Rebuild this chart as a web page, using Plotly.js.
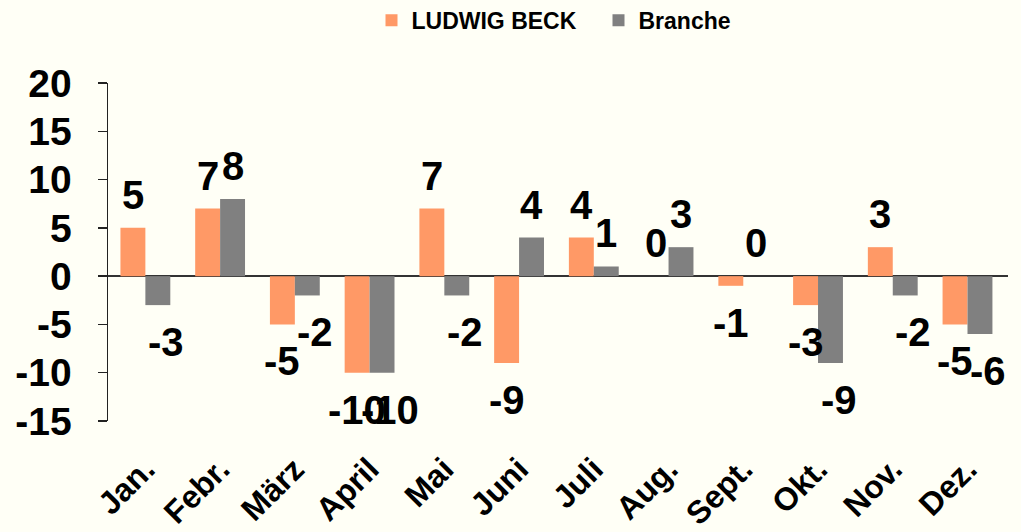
<!DOCTYPE html>
<html>
<head>
<meta charset="utf-8">
<script src="https://cdn.plot.ly/plotly-3.0.1.min.js"></script>
<style>html,body{margin:0;padding:0;background:#fffff6;}#chart{width:1021px;height:532px;}</style>
</head>
<body>
<div id="chart"></div>
<script>
const months = ["Jan.", "Febr.", "März", "April", "Mai", "Juni", "Juli", "Aug.", "Sept.", "Okt.", "Nov.", "Dez."];
const ludwigBeck = [5, 7, -5, -10, 7, -9, 4, 0, -1, -3, 3, -5];
const branche = [-3, 8, -2, -10, -2, 4, 1, 3, 0, -9, -2, -6];
const seriesNames = ["LUDWIG BECK", "Branche"];
const yTicks = [-15, -10, -5, 0, 5, 10, 15, 20];

const FONT = "'Liberation Sans', Arial, sans-serif";
const colors = ["#ff9966", "#808080"];

const traces = [ludwigBeck, branche].map((vals, i) => ({
  type: "bar",
  name: seriesNames[i],
  x: months,
  y: vals,
  marker: {color: colors[i]},
  hoverinfo: "x+y"
}));

const annotations = [];
[ludwigBeck, branche].forEach((vals, s) => {
  vals.forEach((v, k) => {
    const neg = v < 0;
    annotations.push({
      x: months[k], y: v, xref: "x", yref: "y",
      text: String(v), showarrow: false,
      xshift: (s === 0 ? -12.5 : 12.5) + (neg && s === 1 ? 8 : 0),
      yanchor: neg ? "top" : "bottom",
      yshift: neg ? -13 : 9,
      font: {family: FONT, size: 40, color: "#000", weight: 700}
    });
  });
});

const layout = {
  width: 1021, height: 532,
  paper_bgcolor: "#fffff6", plot_bgcolor: "#fffff6",
  margin: {l: 108, r: 13, t: 83, b: 111},
  barmode: "group", bargap: 0.333, bargroupgap: 0,
  font: {family: FONT, color: "#000"},
  showlegend: true,
  legend: {
    orientation: "h", x: 0.545, xanchor: "center",
    yref: "container", y: 0.962, yanchor: "middle",
    font: {family: FONT, size: 23, color: "#000", weight: 700},
    entrywidth: 182, entrywidthmode: "pixels",
    bgcolor: "rgba(0,0,0,0)"
  },
  xaxis: {
    type: "category", tickangle: -45, showgrid: false, zeroline: false,
    showline: false, ticks: "", ticklabelstandoff: 22,
    tickfont: {family: FONT, size: 32, color: "#000", weight: 700}
  },
  yaxis: {
    range: [-15, 20], tickmode: "array", tickvals: yTicks,
    ticktext: yTicks.map(v => String(v)), showgrid: false,
    zeroline: true, zerolinecolor: "#333", zerolinewidth: 2,
    showline: true, linecolor: "#222", linewidth: 1.5,
    ticks: "outside", ticklen: 9, tickcolor: "#222", tickwidth: 1.5,
    tickfont: {family: FONT, size: 39, color: "#000", weight: 700},
    ticklabelstandoff: 18
  },
  annotations: annotations
};

Plotly.newPlot("chart", traces, layout, {displayModeBar: false, staticPlot: true});
</script>
</body>
</html>
